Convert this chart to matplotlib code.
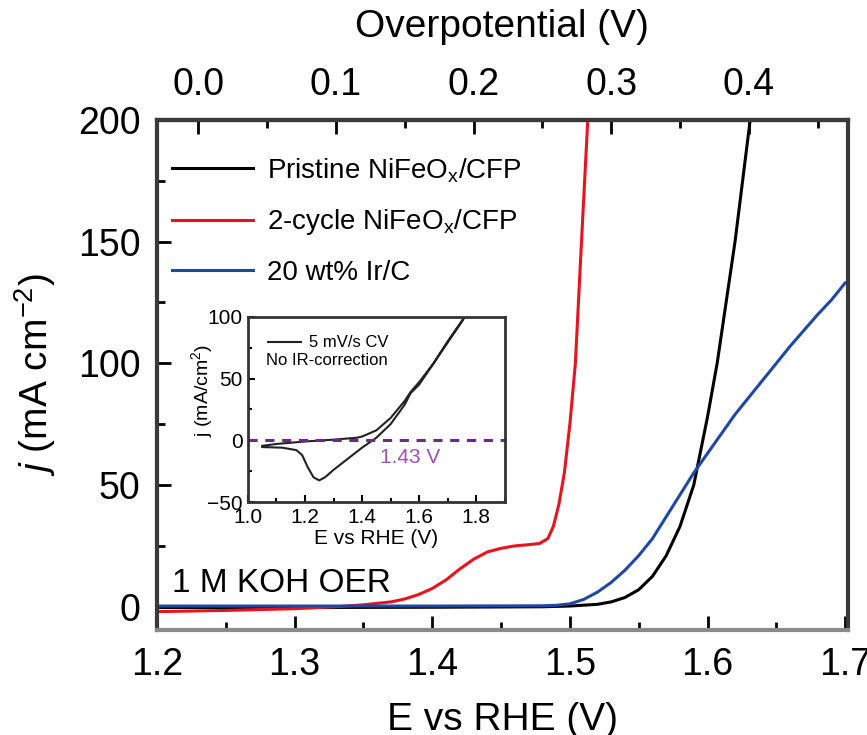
import numpy as np
import matplotlib
matplotlib.use("Agg")
import matplotlib.pyplot as plt
from matplotlib.ticker import MultipleLocator

plt.rcParams['font.family'] = ['Liberation Sans', 'DejaVu Sans']
plt.rcParams['mathtext.fontset'] = 'custom'
plt.rcParams['mathtext.rm'] = 'Liberation Sans'
plt.rcParams['mathtext.it'] = 'Liberation Sans:italic'

# Polarisation curves, E vs RHE (V) and current density (mA cm^-2)
pristine_e = [1.20, 1.30, 1.40, 1.48, 1.50, 1.52, 1.53, 1.54, 1.55, 1.56,
              1.57, 1.58, 1.59, 1.60, 1.607, 1.62, 1.631, 1.633]
pristine_j = [-0.3, -0.3, -0.2, 0.0, 0.3, 1.0, 2.0, 3.8, 7.0, 12.5,
              21.0, 33.0, 50.0, 78.0, 100.0, 150.0, 200.0, 206.0]

cycled_e = [1.20, 1.25, 1.30, 1.33, 1.35, 1.37, 1.38, 1.39, 1.40, 1.41,
            1.42, 1.43, 1.44, 1.45, 1.46, 1.47, 1.478, 1.484, 1.488, 1.492,
            1.496, 1.500, 1.504, 1.508, 1.513, 1.514]
cycled_j = [-2.0, -1.5, -0.8, 0.0, 0.8, 2.0, 3.2, 5.0, 7.5, 11.0,
            15.5, 19.5, 22.5, 24.0, 25.0, 25.5, 26.0, 28.0, 33.0, 42.0,
            55.0, 75.0, 100.0, 145.0, 200.0, 206.0]

irc_e = [1.20, 1.30, 1.40, 1.48, 1.49, 1.50, 1.51, 1.52, 1.53, 1.54, 1.55,
         1.56, 1.57, 1.58, 1.59, 1.60, 1.61, 1.62, 1.64, 1.66, 1.68, 1.69, 1.70]
irc_j = [0.3, 0.3, 0.3, 0.4, 0.6, 1.2, 3.0, 6.0, 10.0, 15.0, 21.0,
         28.0, 37.0, 46.0, 55.0, 63.0, 71.0, 79.0, 93.0, 107.0, 120.0, 126.0, 133.0]

# Inset: CV loop without iR correction
cv_e = [1.05, 1.10, 1.20, 1.30, 1.38, 1.40, 1.45, 1.50, 1.55, 1.57, 1.60,
        1.65, 1.70, 1.75, 1.76,
        1.70, 1.65, 1.60, 1.57, 1.55, 1.50, 1.45, 1.40, 1.35, 1.30, 1.27,
        1.25, 1.23, 1.21, 1.19, 1.17, 1.12, 1.05]
cv_j = [-4.5, -3.0, -1.0, 0.5, 2.0, 3.0, 8.0, 18.0, 32.0, 39.0, 47.0,
        62.0, 79.0, 96.0, 100.0,
        80.0, 62.0, 45.0, 38.0, 29.0, 13.0, 2.0, -6.0, -15.0, -24.0, -30.0,
        -32.5, -30.0, -22.0, -12.0, -8.0, -6.0, -5.5]
onset_e = 1.43

labels = [r"Pristine NiFeO$_{\mathrm{x}}$/CFP",
          r"2-cycle NiFeO$_{\mathrm{x}}$/CFP",
          "20 wt% Ir/C"]
colors = ["black", "#e8141c", "#1f48a6"]

fig = plt.figure(figsize=(8.67, 7.35), dpi=100)
ax = fig.add_axes([0.181, 0.143, 0.797, 0.694])

for e, j, lab, c in zip([pristine_e, cycled_e, irc_e],
                        [pristine_j, cycled_j, irc_j], labels, colors):
    ax.plot(e, j, color=c, lw=2.2, label=lab)

ax.set_xlim(1.2, 1.702)
ax.set_ylim(-9.5, 200)
ax.xaxis.set_major_locator(MultipleLocator(0.1))
ax.xaxis.set_minor_locator(MultipleLocator(0.05))
ax.yaxis.set_major_locator(MultipleLocator(50))
ax.yaxis.set_minor_locator(MultipleLocator(25))
ax.tick_params(which='both', direction='in', width=2, labelsize=27, pad=12)
ax.tick_params(which='major', length=10)
ax.tick_params(which='minor', length=6)
ax.xaxis.set_major_formatter(lambda v, p: f"{v:.1f}")
for s in ax.spines.values():
    s.set_linewidth(3)
    s.set_color('#3a3a3a')
ax.spines['bottom'].set_color('#8a8a8a')

ax.set_xlabel("E vs RHE (V)", fontsize=28, labelpad=14)
ax.set_ylabel(r"$j$ (mA cm$^{-2}$)", fontsize=28, labelpad=14)

# Overpotential scale on top (eta = E - 1.23 V)
top = ax.secondary_xaxis('top', functions=(lambda x: x - 1.23, lambda x: x + 1.23))
top.xaxis.set_major_locator(MultipleLocator(0.1))
top.xaxis.set_minor_locator(MultipleLocator(0.05))
top.xaxis.set_major_formatter(lambda v, p: f"{abs(v):.1f}")
top.tick_params(which='both', direction='in', width=2, labelsize=27, pad=12)
top.tick_params(which='major', length=10)
top.tick_params(which='minor', length=6)
top.spines['top'].set_linewidth(3)
top.set_xlabel("Overpotential (V)", fontsize=28, labelpad=22)

ax.legend(loc='upper left', bbox_to_anchor=(-0.006, 0.967), frameon=False,
          fontsize=20, handlelength=2.9, handletextpad=0.5,
          labelspacing=0.82, borderaxespad=0.3)
ax.text(0.022, 0.06, "1 M KOH OER", transform=ax.transAxes, fontsize=24,
        va='bottom', ha='left')

# Inset CV
ins = fig.add_axes([0.286, 0.317, 0.296, 0.252])
ins.plot(cv_e, cv_j, color='#222222', lw=1.5, label="5 mV/s CV")
ins.axhline(0, color='#6a2a8a', lw=2.2, ls=(0, (3, 2.5)))
ins.text(1.57, -6, f"{onset_e:.2f} V", color='#9b4fc0', fontsize=15,
         ha='center', va='top')
ins.set_xlim(1.0, 1.9)
ins.set_ylim(-50, 100)
ins.xaxis.set_major_locator(MultipleLocator(0.2))
ins.xaxis.set_minor_locator(MultipleLocator(0.1))
ins.yaxis.set_major_locator(MultipleLocator(50))
ins.yaxis.set_minor_locator(MultipleLocator(25))
ins.tick_params(which='both', direction='in', width=1.5, labelsize=15, pad=4)
ins.tick_params(which='major', length=5)
ins.tick_params(which='minor', length=3)
ins.xaxis.set_major_formatter(lambda v, p: f"{v:.1f}")
for s in ins.spines.values():
    s.set_linewidth(2)
    s.set_color('#333333')
ins.set_xlabel("E vs RHE (V)", fontsize=15, labelpad=2)
ins.set_ylabel(r"j (mA/cm$^{2}$)", fontsize=14)
ins.yaxis.set_label_coords(-0.13, 0.6)
ins.legend(loc='upper left', bbox_to_anchor=(0.031, 0.962), frameon=False,
           fontsize=12, handlelength=2.0, handletextpad=0.5, borderaxespad=0.3)
ins.text(0.07, 0.74, "No IR-correction", transform=ins.transAxes, fontsize=12)

fig.savefig("out.png", dpi=100)
